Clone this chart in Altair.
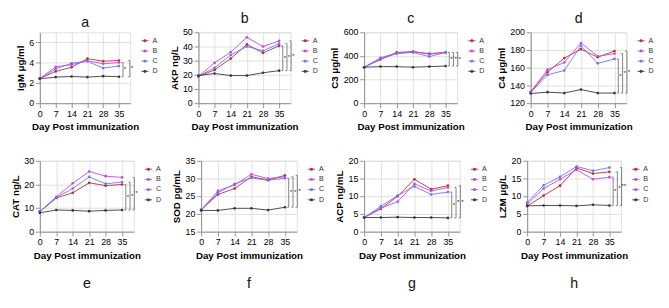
import altair as alt
import pandas as pd

days = [0, 7, 14, 21, 28, 35]
groups = ["A", "B", "C", "D"]
colors = ["#b3303c", "#c04ce0", "#7272ec", "#383838"]

# a: IgM
igm_A = [2.45, 3.15, 3.55, 4.4, 4.15, 4.22]
igm_B = [2.45, 3.6, 3.8, 4.2, 3.9, 4.02]
igm_C = [2.4, 3.4, 3.95, 4.15, 3.47, 3.68]
igm_D = [2.42, 2.58, 2.64, 2.58, 2.67, 2.62]
# b: AKP
akp_A = [19, 23.5, 31.5, 41.5, 35.5, 40.5]
akp_B = [19, 28.5, 36, 46.5, 40, 44]
akp_C = [19, 25, 34, 40, 37, 42]
akp_D = [19.5, 21, 19.5, 19.5, 21.5, 23]
# c: C3
c3_A = [305, 370, 430, 435, 420, 430]
c3_B = [305, 385, 425, 440, 415, 430]
c3_C = [305, 375, 420, 430, 395, 430]
c3_D = [305, 310, 310, 305, 310, 315]
# d: C4
c4_A = [133, 155, 171, 181, 172, 179]
c4_B = [133, 158, 166, 188, 173, 176]
c4_C = [132, 152, 157, 185, 165, 170]
c4_D = [131, 132.5, 131.5, 135.5, 131.5, 131.5]
# e: CAT
cat_A = [8.5, 14.3, 16.5, 20.7, 19.5, 20]
cat_B = [8.5, 14.8, 20.5, 25.5, 23.5, 23]
cat_C = [8.5, 14.5, 18.3, 23.2, 20.3, 21]
cat_D = [8, 9.2, 9, 8.7, 9, 9.2]
# f: SOD
sod_A = [21.2, 25.5, 27.2, 30.5, 29.6, 30.9]
sod_B = [21.2, 26.5, 28.2, 31.2, 30, 30.5]
sod_C = [21, 26, 28.5, 30.2, 29.5, 30.1]
sod_D = [21, 21, 21.6, 21.6, 21.1, 21.9]
# g: ACP
acp_A = [4, 6.5, 10, 14.8, 12, 13]
acp_B = [4, 6.7, 8.5, 13.5, 11.5, 12.5]
acp_C = [4, 7.2, 10.2, 12.8, 10.5, 11.2]
acp_D = [4, 4, 4.1, 4, 4, 3.9]
# h: LZM
lzm_A = [7.2, 10.2, 13, 18, 16.4, 16.9]
lzm_B = [7.8, 12.2, 14.8, 17.5, 14.8, 15.4]
lzm_C = [8.3, 13.1, 15.5, 18.4, 17.2, 18.1]
lzm_D = [7.3, 7.4, 7.4, 7.3, 7.6, 7.4]

letters = ["a", "b", "c", "d", "e", "f", "g", "h"]
ytitles = ["IgM μg/ml", "AKP ng/L", "C3 μg/ml", "C4 μg/ml",
           "CAT ng/L", "SOD pg/mL", "ACP ng/mL", "LZM μg/L"]
ydomains = [[0, 7], [0, 50], [0, 600], [120, 200],
            [0, 30], [15, 35], [0, 20], [0, 20]]
yticks = [[0, 2, 4, 6], [0, 10, 20, 30, 40, 50], [0, 200, 400, 600],
          [120, 140, 160, 180, 200], [0, 10, 20, 30], [15, 20, 25, 30, 35],
          [0, 5, 10, 15, 20], [0, 5, 10, 15, 20]]
series = [
    [igm_A, igm_B, igm_C, igm_D], [akp_A, akp_B, akp_C, akp_D],
    [c3_A, c3_B, c3_C, c3_D], [c4_A, c4_B, c4_C, c4_D],
    [cat_A, cat_B, cat_C, cat_D], [sod_A, sod_B, sod_C, sod_D],
    [acp_A, acp_B, acp_C, acp_D], [lzm_A, lzm_B, lzm_C, lzm_D],
]
# significance labels for brackets (innermost first)
stars = [["*", "*"], ["*", "*", "*"], ["*", "*", "*"], ["*", "*", "*"],
         ["*", "*", "*"], ["*", "*", "*"], ["*", "*", "*"], ["*", "*", "**"]]
widths = [102, 104, 105, 108, 106, 108, 108, 106]

FONT = "Liberation Sans"
legend_path = "M-1,0H1M-0.26,-0.26H0.26V0.26H-0.26Z"


def panel(i):
    rows = []
    for g, vals in zip(groups, series[i]):
        for d, v in zip(days, vals):
            rows.append({"day": d, "value": v, "group": g})
    df = pd.DataFrame(rows)

    last = [s[-1] for s in series[i][:3]]
    lo = series[i][3][-1]
    tops = sorted(last)[-len(stars[i]):]
    bx = [36.6, 38.4, 40.2] if len(tops) == 3 else [36.8, 39.8]
    brk = pd.DataFrame({
        "day": bx,
        "day2": [b - 0.7 for b in bx],
        "daystar": [b + 0.9 for b in bx],
        "value": [lo] * len(tops),
        "value2": tops,
        "mid": [(lo + t) / 2 for t in tops],
        "star": stars[i],
    })

    x = alt.X("day:Q", scale=alt.Scale(domain=[0, 40], nice=False),
              axis=alt.Axis(values=days, tickCount=len(days),
                            title="Day Post immunization",
                            labelOverlap=False, labelFlush=False))
    y = alt.Y("value:Q", scale=alt.Scale(domain=ydomains[i], nice=False, zero=False),
              axis=alt.Axis(values=yticks[i], tickCount=len(yticks[i]),
                            title=ytitles[i], labelOverlap=False,
                            labelFlush=False))

    lines = alt.Chart(df).mark_line(
        strokeWidth=1, point=alt.OverlayMarkDef(size=9, filled=True)
    ).encode(
        x=x, y=y,
        color=alt.Color("group:N", scale=alt.Scale(domain=groups, range=colors),
                        legend=alt.Legend(title=None, symbolType=legend_path,
                                          symbolSize=64, symbolStrokeWidth=1,
                                          labelFontSize=8, labelColor="#333",
                                          labelFont=FONT, rowPadding=2.5,
                                          offset=7, padding=5)),
    )
    vrule = alt.Chart(brk).mark_rule(color="#555", strokeWidth=0.8).encode(
        x="day:Q", y="value:Q", y2="value2:Q")
    hlo = alt.Chart(brk).mark_rule(color="#555", strokeWidth=0.8).encode(
        x="day2:Q", x2="day:Q", y="value:Q")
    hhi = alt.Chart(brk).mark_rule(color="#555", strokeWidth=0.8).encode(
        x="day2:Q", x2="day:Q", y="value2:Q")
    txt = alt.Chart(brk).mark_text(fontSize=7, font=FONT, color="#222",
                                   baseline="middle").encode(
        x="daystar:Q", y="mid:Q", text="star:N")

    top = i < 4
    return alt.layer(lines, vrule, hlo, hhi, txt).properties(
        width=widths[i], height=80,
        title=alt.TitleParams(letters[i], fontSize=16, font=FONT,
                              fontWeight="normal", anchor="middle",
                              frame="group", orient="top" if top else "bottom",
                              offset=3 if top else 19, color="#111"),
    )


row1 = alt.hconcat(*[panel(i) for i in range(4)], spacing=6).resolve_scale(
    y="independent", color="independent").resolve_legend(color="independent")
row2 = alt.hconcat(*[panel(i) for i in range(4, 8)], spacing=5).resolve_scale(
    y="independent", color="independent").resolve_legend(color="independent")

chart = alt.vconcat(row1, row2, spacing=26).resolve_scale(
    color="independent").resolve_legend(color="independent").properties(
    padding={"top": -17, "left": 2, "right": 2, "bottom": 2}
).configure_view(
    stroke=None
).configure_axis(
    grid=False, domainColor="#222", tickColor="#222", tickSize=3,
    labelFont=FONT, labelFontSize=6.5, labelFontWeight="bold", labelColor="#333",
    labelPadding=1, labelOverlap=False, titleFont=FONT, titleFontSize=7,
    titleFontWeight="bold", titleColor="#222", titlePadding=2,
).configure(background="white")

chart.save("out.html", embed_options={"renderer": "svg", "actions": False})
